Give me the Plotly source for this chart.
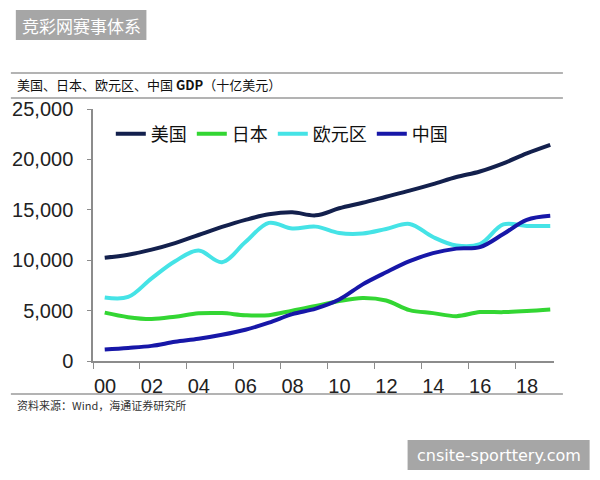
import plotly.graph_objects as go

# ---------------- data ----------------
years = list(range(0, 20))  # 2000 .. 2019
us = [10250, 10550, 11050, 11700, 12500, 13300, 14000, 14550, 14750, 14450,
      15150, 15700, 16300, 16900, 17550, 18250, 18800, 19600, 20600, 21450]
japan = [4800, 4350, 4170, 4400, 4730, 4750, 4550, 4550, 5000, 5450,
         5950, 6250, 6000, 5050, 4750, 4450, 4850, 4850, 4950, 5100]
euro = [6300, 6350, 8200, 9900, 10950, 9800, 11800, 13700, 13150, 13330,
        12700, 12650, 13100, 13600, 12300, 11450, 11600, 13550, 13400, 13400]
china = [1150, 1300, 1500, 1900, 2200, 2600, 3100, 3800, 4650, 5200,
         6100, 7600, 8800, 9900, 10700, 11150, 11300, 12600, 14000, 14400]

series_names = ["美国", "日本", "欧元区", "中国"]
series_values = [us, japan, euro, china]
series_colors = ["#13204d", "#33d633", "#45e3e6", "#1717a8"]

x_labelyears = [0, 2, 4, 6, 8, 10, 12, 14, 16, 18]
x_ticktext = ["00", "02", "04", "06", "08", "10", "12", "14", "16", "18"]
y_tickvals = [0, 5000, 10000, 15000, 20000, 25000]
y_ticktext = ["0", "5,000", "10,000", "15,000", "20,000", "25,000"]

title_text = "美国、日本、欧元区、中国 <b>GDP</b>（十亿美元）"
source_text = "资料来源：Wind，海通证券研究所"
wm_top = "竞彩网赛事体系"
wm_bottom = "cnsite-sporttery.com"

# ---------------- layout geometry (pixels) ----------------
W, H = 600, 480
L, R, T, B = 88, 46, 109, 119
PW, PH = W - L - R, H - T - B
XMIN, XMAX = -0.5, 19.16
year_px = PW / (XMAX - XMIN)


def px(x):
    return (x - L) / PW


def py(y):
    return (H - B - y) / PH


fig = go.Figure()
for name, vals, col in zip(series_names, series_values, series_colors):
    fig.add_trace(go.Scatter(
        x=years, y=vals, name=name, mode="lines",
        line=dict(color=col, width=4, shape="spline", smoothing=1.0),
    ))

axis_col = "#8c8c8c"
fig.update_layout(
    width=W, height=H,
    margin=dict(l=L, r=R, t=T, b=B),
    paper_bgcolor="white", plot_bgcolor="white",
    font=dict(family="Liberation Sans, Arial, sans-serif", color="#222"),
    showlegend=True,
    legend=dict(
        orientation="h", x=px(106), xanchor="left", y=py(134), yanchor="middle",
        font=dict(family="Noto Sans CJK SC", size=18, color="#111"),
        bgcolor="rgba(0,0,0,0)", itemwidth=30, tracegroupgap=0,
    ),
    xaxis=dict(
        range=[XMIN, XMAX], showgrid=False, zeroline=False,
        showline=True, linecolor=axis_col, linewidth=1.5,
        # tick marks sit between years; labels shifted half a year right
        tickvals=[v - 0.5 for v in x_labelyears], ticktext=x_ticktext,
        ticks="outside", ticklen=6, tickcolor=axis_col,
        ticklabelshift=round(year_px / 2),
        tickfont=dict(size=20, color="#222"),
    ),
    yaxis=dict(
        range=[0, 25000], showgrid=False, zeroline=False,
        showline=True, linecolor=axis_col, linewidth=1.5,
        tickvals=y_tickvals, ticktext=y_ticktext,
        ticks="outside", ticklen=4, tickcolor=axis_col,
        tickfont=dict(size=20, color="#222"), ticklabelstandoff=10,
    ),
)

shapes = []
for yy in (73, 98, 394):
    shapes.append(dict(type="line", xref="paper", yref="paper",
                       x0=px(5), x1=px(563), y0=py(yy), y1=py(yy),
                       line=dict(color="#9a9a9a", width=1.5)))
# watermark boxes
shapes.append(dict(type="rect", xref="paper", yref="paper",
                   x0=px(10), x1=px(142), y0=py(40), y1=py(10),
                   fillcolor="#a6a6a6", line=dict(width=0)))
shapes.append(dict(type="rect", xref="paper", yref="paper",
                   x0=px(406), x1=px(590), y0=py(470), y1=py(440),
                   fillcolor="#a6a6a6", line=dict(width=0)))
fig.update_layout(shapes=shapes)

annotations = [
    dict(text=title_text, xref="paper", yref="paper", x=px(9), y=py(85),
         xanchor="left", yanchor="middle", showarrow=False,
         font=dict(family="Noto Sans CJK SC", size=13, color="#111")),
    dict(text=source_text, xref="paper", yref="paper", x=px(9), y=py(405),
         xanchor="left", yanchor="middle", showarrow=False,
         font=dict(family="Noto Sans CJK SC", size=11, color="#333")),
    dict(text=wm_top, xref="paper", yref="paper", x=px(76), y=py(25),
         xanchor="center", yanchor="middle", showarrow=False,
         font=dict(family="Noto Sans CJK SC", size=17, color="white")),
    dict(text=wm_bottom, xref="paper", yref="paper", x=px(498), y=py(455),
         xanchor="center", yanchor="middle", showarrow=False,
         font=dict(family="DejaVu Sans", size=16, color="white")),
]
fig.update_layout(annotations=annotations)

fig.write_html("out.html")
